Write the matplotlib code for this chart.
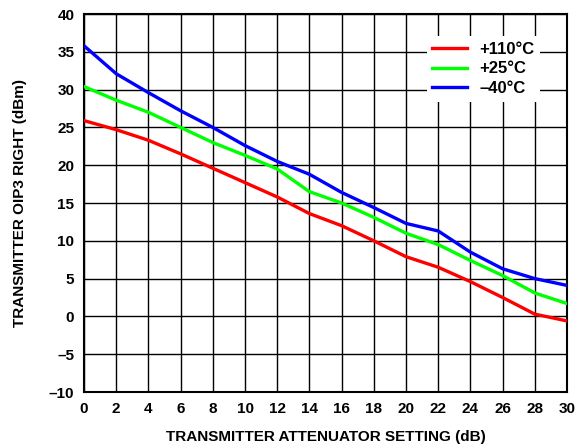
import matplotlib
matplotlib.use("Agg")
import matplotlib.pyplot as plt

plt.rcParams['font.family'] = ['Liberation Sans', 'DejaVu Sans']
plt.rcParams['axes.unicode_minus'] = False

atten = [0, 2, 4, 6, 8, 10, 12, 14, 16, 18, 20, 22, 24, 26, 28, 30]
oip3_110 = [25.9, 24.7, 23.3, 21.5, 19.6, 17.7, 15.8, 13.6, 12.0, 10.0, 7.9, 6.5, 4.6, 2.5, 0.3, -0.6]
oip3_25 = [30.4, 28.6, 27.0, 25.0, 23.0, 21.3, 19.5, 16.5, 15.0, 13.1, 11.0, 9.5, 7.4, 5.4, 3.1, 1.7]
oip3_m40 = [35.8, 32.1, 29.6, 27.2, 25.0, 22.6, 20.5, 18.8, 16.4, 14.4, 12.3, 11.3, 8.5, 6.3, 5.0, 4.1]
labels = ['+110°C', '+25°C', '–40°C']
colors = ['#ff0000', '#00ff00', '#0000ff']

xticks = list(range(0, 31, 2))
yticks = list(range(-10, 41, 5))
ytick_labels = [('–' + str(-v)) if v < 0 else str(v) for v in yticks]

fig = plt.figure(figsize=(5.77, 4.45), dpi=100)
ax = fig.add_axes([0.1456, 0.1191, 0.8371, 0.8494])

for series, lab, col in zip([oip3_110, oip3_25, oip3_m40], labels, colors):
    ax.plot(atten, series, color=col, lw=2.4, label=lab, zorder=3)

ax.set_xlim(0, 30)
ax.set_ylim(-10, 40)
ax.set_xticks(xticks)
ax.set_yticks(yticks)
ax.set_yticklabels(ytick_labels)
ax.grid(True, color='black', lw=1.0)
ax.tick_params(length=0, labelsize=11, pad=7)
for lbl in ax.get_xticklabels() + ax.get_yticklabels():
    lbl.set_fontweight('bold')
for s in ax.spines.values():
    s.set_linewidth(1.5)

ax.set_xlabel('TRANSMITTER ATTENUATOR SETTING (dB)', fontsize=11, fontweight='bold', labelpad=10)
ax.set_ylabel('TRANSMITTER OIP3 RIGHT (dBm)', fontsize=11, fontweight='bold', labelpad=16)

leg = ax.legend(loc='upper right', bbox_to_anchor=(0.944, 0.942), frameon=True, fancybox=False,
                edgecolor='none', framealpha=1.0, prop={'weight': 'bold', 'size': 12},
                handlelength=2.1, handletextpad=0.7, labelspacing=0.28, borderpad=0.35,
                borderaxespad=0.0)
leg.set_zorder(5)

fig.savefig('out.png', dpi=100)
